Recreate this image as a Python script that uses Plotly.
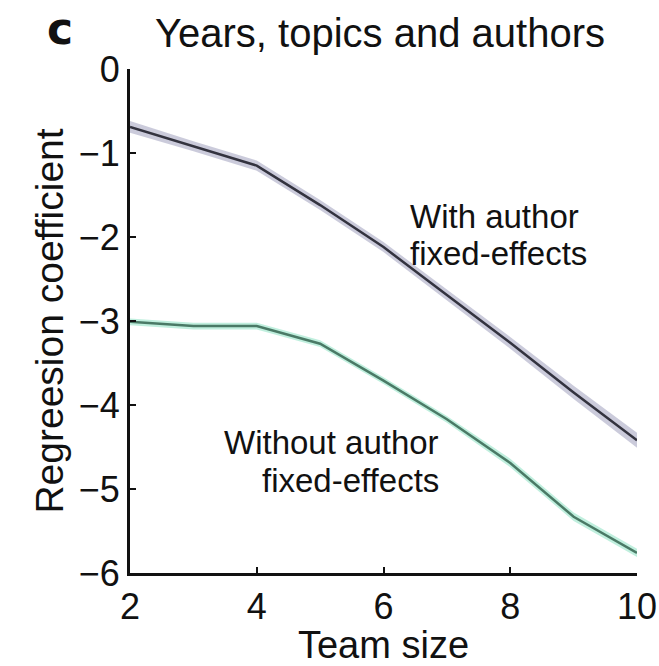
import plotly.graph_objects as go

team_size = [2, 3, 4, 5, 6, 7, 8, 9, 10]
with_fe = [-0.69, -0.92, -1.15, -1.62, -2.12, -2.69, -3.26, -3.85, -4.42]
with_fe_ci = [0.07, 0.06, 0.06, 0.06, 0.06, 0.07, 0.07, 0.08, 0.09]
without_fe = [-3.01, -3.06, -3.06, -3.27, -3.71, -4.17, -4.69, -5.33, -5.76]
without_fe_ci = [0.04, 0.04, 0.04, 0.04, 0.04, 0.04, 0.05, 0.05, 0.05]

x_ticks = [2, 4, 6, 8, 10]
y_ticks = [0, -1, -2, -3, -4, -5, -6]

FONT = "Liberation Sans, Arial, Helvetica, sans-serif"
INK = "#111111"

fig = go.Figure()


def add_series(y, ci, line_color, band_color):
    lo = [a - c for a, c in zip(y, ci)]
    hi = [a + c for a, c in zip(y, ci)]
    fig.add_trace(go.Scatter(x=team_size, y=hi, mode="lines", line=dict(width=0),
                             showlegend=False, hoverinfo="skip"))
    fig.add_trace(go.Scatter(x=team_size, y=lo, mode="lines", line=dict(width=0),
                             fill="tonexty", fillcolor=band_color, showlegend=False,
                             hoverinfo="skip"))
    fig.add_trace(go.Scatter(x=team_size, y=y, mode="lines",
                             line=dict(color=line_color, width=2.5), showlegend=False))


add_series(with_fe, with_fe_ci, "#33333f", "rgba(160,160,190,0.55)")
add_series(without_fe, without_fe_ci, "#4a7a66", "rgba(150,228,200,0.6)")


def label(x, y, text, anchor):
    fig.add_annotation(x=x, y=y, xref="x", yref="y", text=text, showarrow=False,
                       xanchor=anchor, yanchor="middle",
                       font=dict(family=FONT, size=33, color=INK))


# "With author / fixed-effects" left-aligned
label(6.38, -1.76, "With author", "left")
label(6.38, -2.20, "fixed-effects", "left")
# "Without author / fixed-effects" right-aligned
label(6.90, -4.45, "Without author", "right")
label(6.90, -4.90, "fixed-effects", "right")

fig.add_annotation(x=-0.138, y=1.08, xref="paper", yref="paper", text="<b>c</b>",
                   showarrow=False, xanchor="center", yanchor="middle",
                   font=dict(family="DejaVu Sans, Arial, sans-serif", size=44, color=INK))

fig.update_layout(
    width=659, height=666,
    margin=dict(l=130, r=22, t=69, b=93),
    paper_bgcolor="white", plot_bgcolor="white",
    title=dict(text="Years, topics and authors", x=380 / 659, xanchor="center",
               y=1 - 33 / 666, yanchor="middle",
               font=dict(family=FONT, size=40, color=INK)),
    font=dict(family=FONT, size=36, color=INK),
    xaxis=dict(range=[2, 10], tickvals=x_ticks, showline=True, linecolor=INK,
               linewidth=3, ticks="inside", ticklen=6, tickwidth=2, tickcolor=INK,
               showgrid=False, zeroline=False, automargin=False,
               tickfont=dict(size=36),
               title=dict(text="Team size", standoff=2, font=dict(size=38))),
    yaxis=dict(range=[-6, 0], tickvals=y_ticks, showline=True, linecolor=INK,
               linewidth=3, ticks="inside", ticklen=6, tickwidth=2, tickcolor=INK,
               showgrid=False, zeroline=False, automargin=False,
               tickfont=dict(size=36),
               title=dict(text="Regreesion coefficient", standoff=4, font=dict(size=39))),
)

fig.write_html("out.html")
